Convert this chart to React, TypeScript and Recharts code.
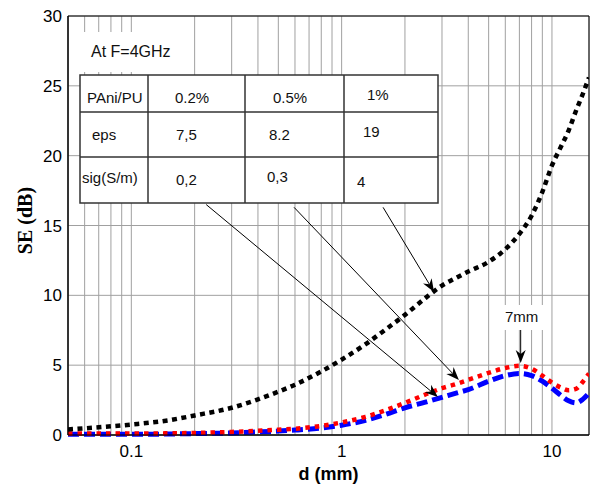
import React from "react";
import {
  LineChart,
  Line,
  XAxis,
  YAxis,
  CartesianGrid,
  ReferenceLine,
  ReferenceArea,
  Label,
} from "recharts";

// ---- data ----
const dValues = [0.05, 0.07, 0.1, 0.15, 0.2, 0.3, 0.4, 0.5, 0.6, 0.8, 1, 1.3, 1.6, 2, 2.5, 3, 3.5, 4, 5, 6, 7, 8, 9, 10, 11, 12, 13, 14, 15];
const se1pct = [0.4, 0.55, 0.75, 1.05, 1.4, 1.95, 2.55, 3.1, 3.6, 4.55, 5.4, 6.5, 7.5, 8.6, 9.8, 10.7, 11.25, 11.7, 12.4, 13.3, 14.4, 15.7, 17.4, 19.3, 20.6, 21.8, 23.2, 24.4, 25.6];
const se05pct = [0.1, 0.1, 0.1, 0.12, 0.15, 0.22, 0.3, 0.38, 0.45, 0.65, 0.9, 1.3, 1.75, 2.3, 2.9, 3.35, 3.65, 3.95, 4.45, 4.8, 4.95, 4.75, 4.25, 3.75, 3.4, 3.2, 3.3, 3.8, 4.4];
const se02pct = [0.05, 0.05, 0.05, 0.07, 0.1, 0.15, 0.22, 0.28, 0.35, 0.5, 0.7, 1.05, 1.45, 1.95, 2.35, 2.7, 3.0, 3.25, 3.85, 4.25, 4.4, 4.25, 3.85, 3.35, 2.85, 2.45, 2.3, 2.55, 3.0];

const xMajorTicks = [0.1, 1, 10];
const xMinorTicks = [0.06, 0.07, 0.08, 0.09, 0.2, 0.3, 0.4, 0.5, 0.6, 0.7, 0.8, 0.9, 2, 3, 4, 5, 6, 7, 8, 9];
const yTicks = [0, 5, 10, 15, 20, 25, 30];

const tableRows = [
  ["PAni/PU", "0.2%", "0.5%", "1%"],
  ["eps", "7,5", "8.2", "19"],
  ["sig(S/m)", "0,2", "0,3", "4"],
];
const noteText = "At F=4GHz";
const peakText = "7mm";

// arrows in data coordinates (d, SE)
const arrows = [
  { from: { x: 0.227, y: 16.5 }, to: { x: 2.87, y: 2.72 } },
  { from: { x: 0.594, y: 16.3 }, to: { x: 3.61, y: 3.94 } },
  { from: { x: 1.574, y: 16.3 }, to: { x: 2.75, y: 10.24 } },
  { from: { x: 7.1, y: 7.66 }, to: { x: 7.1, y: 5.15 } },
];

const data = dValues.map((d, i) => ({
  d,
  p1: se1pct[i],
  p05: se05pct[i],
  p02: se02pct[i],
}));

const xTicks = [...xMinorTicks, ...xMajorTicks].sort((a, b) => a - b);

// ---- layout (pixels) ----
const FONT = "'Liberation Sans', Arial, sans-serif";
const tableBox = { x1: 80, y1: 75, x2: 438, y2: 203 };
const colEdges = [148, 245, 344];
const rowEdges = [112, 157];
const cellX = [
  [87, 175, 273, 367],
  [92, 176, 269, 363],
  [82, 176, 267, 357],
];
const cellY = [
  [103, 103, 103, 100],
  [140, 140, 140, 137],
  [183, 185, 182, 187],
];

const ArrowShape = (props: any) => {
  const { x1, y1, x2, y2 } = props;
  if ([x1, y1, x2, y2].some((v) => typeof v !== "number" || isNaN(v))) return <g />;
  const ang = Math.atan2(y2 - y1, x2 - x1);
  const c = Math.cos(ang);
  const s = Math.sin(ang);
  const L = 13;
  const W = 5;
  const N = 9;
  const bx = x2 - L * c;
  const by = y2 - L * s;
  const lx = bx - W * s;
  const ly = by + W * c;
  const rx = bx + W * s;
  const ry = by - W * c;
  const nx = x2 - N * c;
  const ny = y2 - N * s;
  return (
    <g>
      <line x1={x1} y1={y1} x2={nx} y2={ny} stroke="#000" strokeWidth={1} />
      <polygon points={`${x2},${y2} ${lx},${ly} ${nx},${ny} ${rx},${ry}`} fill="#000" />
    </g>
  );
};

const YLabel = (props: any) => {
  const vb = props.viewBox || {};
  const cx = vb.x + vb.width / 2 - 13;
  const cy = vb.y + vb.height / 2 - 5;
  return (
    <text
      x={cx}
      y={cy}
      transform={`rotate(-90 ${cx} ${cy})`}
      textAnchor="middle"
      dominantBaseline="central"
      fontFamily="'Liberation Serif', 'Times New Roman', serif"
      fontWeight="bold"
      fontSize={20}
      fill="#000"
    >
      SE (dB)
    </text>
  );
};

export default function App() {
  return (
    <div style={{ position: "absolute", left: 0, top: 0, width: 594, height: 484, background: "#fff", fontFamily: FONT }}>
      <LineChart width={594} height={484} data={data} margin={{ top: 16, right: 5, bottom: 0, left: 8 }}>
        <CartesianGrid stroke="#a0a0a0" strokeWidth={1} />
        <XAxis
          dataKey="d"
          type="number"
          scale="log"
          domain={[0.05, 15]}
          allowDataOverflow
          ticks={xTicks}
          interval={0}
          tickFormatter={(v: number) => (xMajorTicks.includes(v) ? String(v) : "")}
          tickLine={false}
          tickSize={6}
          tickMargin={4}
          height={49}
          axisLine={{ stroke: "#000" }}
          tick={{ fill: "#000", fontSize: 17, fontFamily: FONT }}
        >
          <Label
            value="d (mm)"
            position="insideBottom"
            offset={4}
            style={{ fontFamily: FONT, fontWeight: "bold", fontSize: 18, fill: "#000" }}
          />
        </XAxis>
        <YAxis
          type="number"
          domain={[0, 30]}
          ticks={yTicks}
          interval={0}
          width={60}
          tickLine={false}
          tickSize={4}
          tickMargin={2}
          axisLine={{ stroke: "#000" }}
          tick={{ fill: "#000", fontSize: 17, fontFamily: FONT }}
        >
          <Label content={<YLabel />} position="center" />
        </YAxis>
        <ReferenceArea x1={0.05} x2={15} y1={0} y2={30} fill="none" stroke="#000" strokeWidth={1} ifOverflow="visible" />
        <Line
          dataKey="p02"
          type="monotone"
          stroke="#0000ff"
          strokeWidth={5}
          strokeDasharray="11 5"
          dot={false}
          activeDot={false}
          isAnimationActive={false}
        />
        <Line
          dataKey="p05"
          type="monotone"
          stroke="#ff0000"
          strokeWidth={4.5}
          strokeDasharray="4.5 5"
          dot={false}
          activeDot={false}
          isAnimationActive={false}
        />
        <Line
          dataKey="p1"
          type="monotone"
          stroke="#000000"
          strokeWidth={4.5}
          strokeDasharray="5 4.5"
          dot={false}
          activeDot={false}
          isAnimationActive={false}
        />
        {arrows.map((a, i) => (
          <ReferenceLine key={i} segment={[a.from, a.to]} ifOverflow="visible" shape={ArrowShape} />
        ))}
      </LineChart>
      <svg
        width={594}
        height={484}
        style={{ position: "absolute", left: 0, top: 0, pointerEvents: "none" }}
      >
        <rect x={69} y={32} width={116} height={40} fill="#fff" />
        <text x={91} y={57} fontFamily={FONT} fontSize={16} fill="#111">
          {noteText}
        </text>
        <rect
          x={tableBox.x1}
          y={tableBox.y1}
          width={tableBox.x2 - tableBox.x1}
          height={tableBox.y2 - tableBox.y1}
          fill="#fff"
          stroke="#333"
          strokeWidth={1.5}
        />
        {colEdges.map((cx, i) => (
          <line key={"c" + i} x1={cx} y1={tableBox.y1} x2={cx} y2={tableBox.y2} stroke="#333" strokeWidth={1.5} />
        ))}
        {rowEdges.map((ry, i) => (
          <line key={"r" + i} x1={tableBox.x1} y1={ry} x2={tableBox.x2} y2={ry} stroke="#333" strokeWidth={1.5} />
        ))}
        {tableRows.map((row, ri) =>
          row.map((cell, ci) => (
            <text key={ri + "-" + ci} x={cellX[ri][ci]} y={cellY[ri][ci]} fontFamily={FONT} fontSize={15} fill="#111">
              {cell}
            </text>
          ))
        )}
        <rect x={502} y={305} width={42} height={25} fill="#fff" />
        <text x={505} y={322} fontFamily={FONT} fontSize={15} fill="#111">
          {peakText}
        </text>
      </svg>
    </div>
  );
}
